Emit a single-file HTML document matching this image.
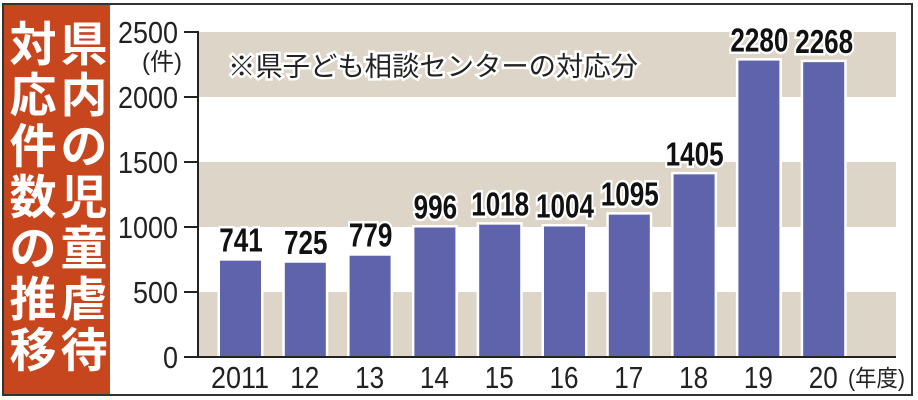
<!DOCTYPE html>
<html><head><meta charset="utf-8"><style>
html,body{margin:0;padding:0;background:#fff}
body{width:918px;height:400px;overflow:hidden;position:relative}
svg{position:absolute;left:0;top:0}
text{font-family:"Liberation Sans","Noto Sans CJK JP",sans-serif}
</style></head><body>
<svg width="918" height="400">
  <rect x="3" y="4" width="909" height="391" fill="#fff" stroke="#333" stroke-width="2"/>
  <rect x="4" y="5" width="106" height="389" fill="#c8461e"/>
  <g id="bands"></g>
  <g id="bars"></g>
  <g id="axis"></g>
  <text x="228" y="76" font-size="27" textLength="410" lengthAdjust="spacingAndGlyphs" fill="#222" stroke="#fff" stroke-width="5" paint-order="stroke">※県子ども相談センターの対応分</text>
  <text x="182" y="70" font-size="24" fill="#222" text-anchor="end">(件)</text>
  <text x="848" y="386" font-size="23" textLength="57" lengthAdjust="spacingAndGlyphs" fill="#222">(年度)</text>
  <g id="title" font-weight="bold" fill="#fff" font-size="47"></g>
</svg>
<script>
const categories=["2011","12","13","14","15","16","17","18","19","20"];
const values=[741,725,779,996,1018,1004,1095,1405,2280,2268];
const yTicks=[0,500,1000,1500,2000,2500];
const NS="http://www.w3.org/2000/svg";
const x0=199,x1=896,y0=357,yMax=2500,pxPer=65/500;
const yS=v=>y0-v*pxPer;
const xC=i=>240+i*64.8;
function mk(tag,attrs,parent,txt){const e=document.createElementNS(NS,tag);for(const k in attrs)e.setAttribute(k,attrs[k]);if(txt!==undefined)e.textContent=txt;parent.appendChild(e);return e;}
const bands=document.getElementById('bands');
for(let t=0;t<yTicks.length-1;t+=2){
  const b=mk('rect',{x:x0,y:yS(yTicks[t+1]),width:x1-x0,height:yS(yTicks[t])-yS(yTicks[t+1]),fill:'#ddd6c8'},bands);
  
  
}
const bars=document.getElementById('bars');
values.forEach((v,i)=>{
  const r=mk('rect',{x:xC(i)-20,y:yS(v),width:41,height:y0-yS(v),fill:'#5f63ab',stroke:'#fff','stroke-width':5,'paint-order':'stroke'},bars);
  
  
  const s=String(v);
  const t=mk('text',{x:xC(i)+1,y:yS(v)-9,'font-size':33,'font-weight':'bold','text-anchor':'middle',fill:'#111',stroke:'#fff','stroke-width':5,'paint-order':'stroke',textLength:s.length*14.5,lengthAdjust:'spacingAndGlyphs'},bars,s);
  
  
  const c=mk('text',{x:xC(i),y:388,'font-size':31,'text-anchor':'middle',fill:'#222',textLength:categories[i].length*14.5,lengthAdjust:'spacingAndGlyphs'},bars,categories[i]);
  
  
});
const ax=document.getElementById('axis');
const yl=mk('line',{x1:x0-1,y1:yS(yMax),x2:x0-1,y2:y0,stroke:'#222','stroke-width':2},ax);


const xl=mk('line',{x1:x0-1,y1:y0,x2:x1,y2:y0,stroke:'#222','stroke-width':2},ax);


yTicks.forEach(v=>{
  const tk=mk('line',{x1:184,y1:yS(v),x2:x0,y2:yS(v),stroke:'#222','stroke-width':2},ax);
  
  
  const s=String(v);
  const tl=mk('text',{x:178,y:yS(v)+11,'font-size':31,'text-anchor':'end',fill:'#222',textLength:s.length*15,lengthAdjust:'spacingAndGlyphs'},ax,s);
  
  
});
const title=document.getElementById('title');
const colR="県内の児童虐待",colL="対応件数の推移";
[...colR].forEach((ch,i)=>{const t=mk('text',{x:84,y:61+i*51,'text-anchor':'middle'},title,ch);
  
  });
[...colL].forEach((ch,i)=>{const t=mk('text',{x:33,y:61+i*51,'text-anchor':'middle'},title,ch);
  
  });
</script>
</body></html>
